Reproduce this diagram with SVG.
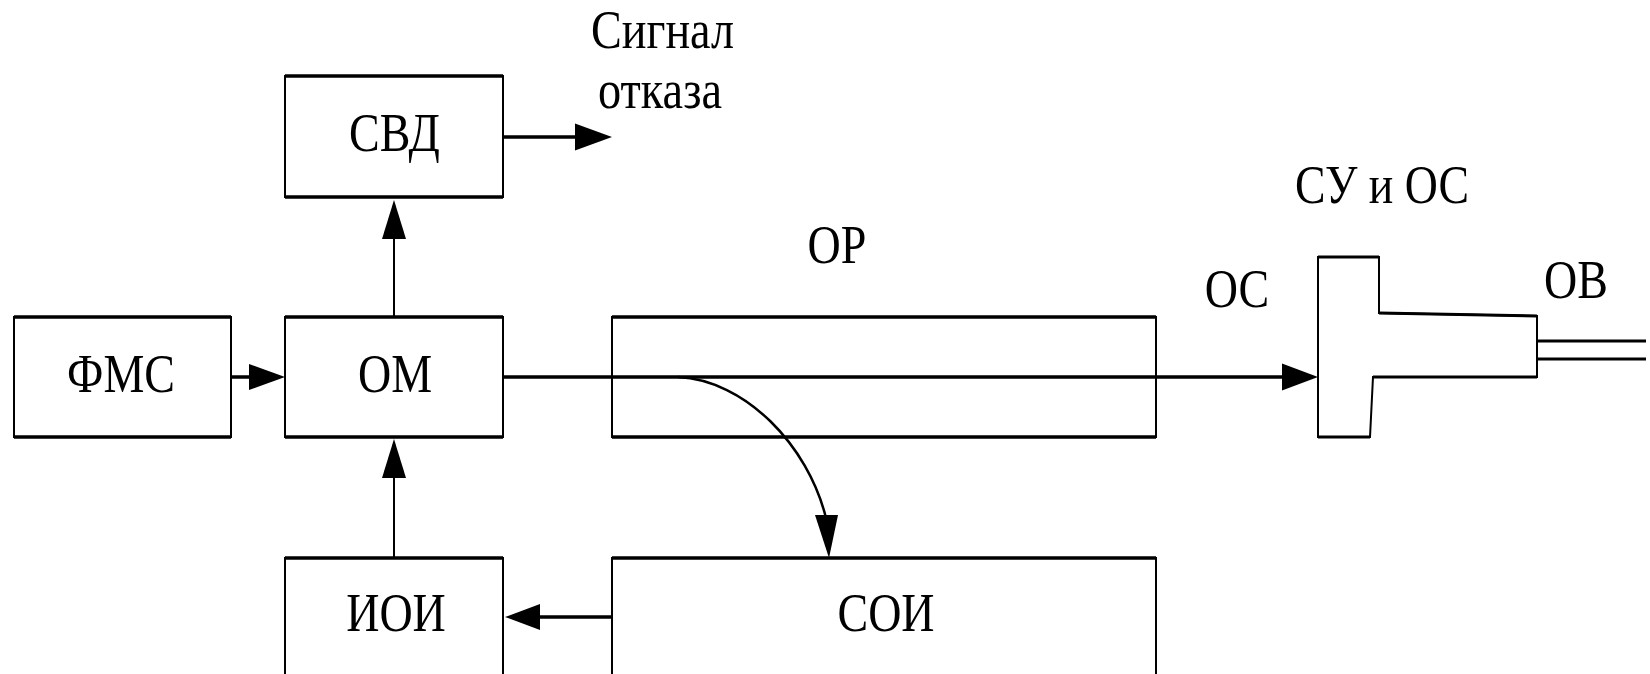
<svg xmlns="http://www.w3.org/2000/svg" width="1650" height="674" viewBox="0 0 1650 674">
<style>
.v{fill:#fff;stroke:#000;stroke-width:2}
.h{fill:none;stroke:#000;stroke-width:3.500}
.l{fill:none;stroke:#000;stroke-width:2}
.a{fill:#000;stroke:none}
text{font-family:"Liberation Serif","Times New Roman",serif;font-size:46px;fill:#000;text-anchor:middle}
</style>
<rect width="1650" height="674" fill="#fff"/>
<g id="node-svd"><rect class="v" x="285" y="76" width="218" height="121"/><path class="h" d="M285 76H503M285 197H503"/><text transform="translate(394.500 151) scale(1 1.19)">СВД</text></g>
<g id="node-fms"><rect class="v" x="14" y="317" width="217" height="120"/><path class="h" d="M14 317H231M14 437H231"/><text transform="translate(121 392) scale(1 1.19)">ФМС</text></g>
<g id="node-om"><rect class="v" x="285" y="317" width="218" height="120"/><path class="h" d="M285 317H503M285 437H503"/><text transform="translate(395 392) scale(1 1.19)">ОМ</text></g>
<g id="node-or"><rect class="v" x="612" y="317" width="544" height="120"/><path class="h" d="M612 317H1156M612 437H1156"/></g>
<g id="node-ioi"><rect class="v" x="285" y="558" width="218" height="130"/><path class="h" d="M285 558H503"/><text transform="translate(396 631) scale(1 1.19)">ИОИ</text></g>
<g id="node-soi"><rect class="v" x="612" y="558" width="544" height="130"/><path class="h" d="M612 558H1156"/><text transform="translate(886 631) scale(1 1.19)">СОИ</text></g>
<g id="node-su"><path class="v" d="M1318 257H1379V313L1537 316V377H1373L1370 437H1318Z"/><path class="h" d="M1318 257H1379M1379 313L1537 316M1537 377H1373M1370 437H1318" style="stroke-width:3"/><path class="l" d="M1537 341H1646M1537 359H1646" style="stroke-width:3"/></g>
<g id="connectors">
<path class="h" d="M503 137H576M231 377H250M503 377H1283M612 617H540"/>
<path class="l" d="M394 317V238M394 558V477"/>
<path class="l" d="M678 377C745 380 808 445 826 518" style="stroke-width:2.500"/>
<path class="a" d="M612 137L575 123.500V150.500Z"/>
<path class="a" d="M394 200L382 239H406Z"/>
<path class="a" d="M285 377L249 364V390Z"/>
<path class="a" d="M394 439L382 478H406Z"/>
<path class="a" d="M505 617L540 604V630Z"/>
<path class="a" d="M829 558L815 515L838 515Z"/>
<path class="a" d="M1318 377L1282 363.500V390.500Z"/>
</g>
<g id="labels">
<text transform="translate(662.500 48) scale(1 1.19)" textLength="143" lengthAdjust="spacingAndGlyphs">Сигнал</text>
<text transform="translate(660 108) scale(1 1.19)" textLength="124" lengthAdjust="spacingAndGlyphs">отказа</text>
<text transform="translate(837 263) scale(1 1.19)">ОР</text>
<text transform="translate(1237 307) scale(1 1.19)">ОС</text>
<text transform="translate(1576 298) scale(1 1.19)">ОВ</text>
<text transform="translate(1382 203) scale(1 1.19)" textLength="174" lengthAdjust="spacingAndGlyphs">СУ и ОС</text>
</g>
</svg>
